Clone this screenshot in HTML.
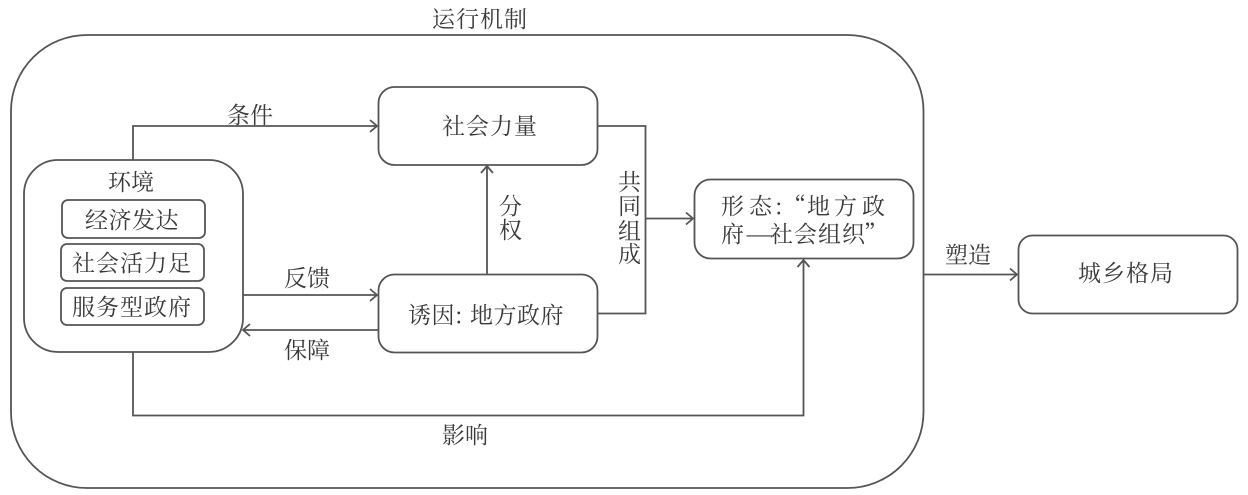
<!DOCTYPE html>
<html><head><meta charset="utf-8"><style>
html,body{margin:0;padding:0;background:#fff;width:1248px;height:495px;overflow:hidden}
svg{display:block}
text{font-family:"Noto Serif CJK SC","Liberation Serif",serif;fill:#3a3a3a;font-size:23px;font-weight:400}
.b{fill:#fff;stroke:#555;stroke-width:1.8}
.l{fill:none;stroke:#555;stroke-width:1.8}
</style></head><body>
<svg width="1248" height="495" viewBox="0 0 1248 495">
<rect class="b" x="11" y="35" width="912.5" height="453" rx="76"/>
<rect class="b" x="24" y="160" width="219" height="192" rx="34"/>
<rect class="b" x="62" y="200" width="143" height="38" rx="6"/>
<rect class="b" x="61" y="244" width="143" height="37" rx="6"/>
<rect class="b" x="61" y="288" width="143" height="37" rx="6"/>
<rect class="b" x="378.500" y="87" width="219" height="78" rx="16"/>
<rect class="b" x="378.500" y="274.500" width="219" height="78" rx="16"/>
<rect class="b" x="694.500" y="179.500" width="219" height="79" rx="16"/>
<rect class="b" x="1018.500" y="235.500" width="219" height="78" rx="14"/>
<path class="l" d="M133 160V126H377M370 120l7 6-7 6"/>
<path class="l" d="M487 274V166M481 173l6-7 6 7"/>
<path class="l" d="M243 295H377M370 289l7 6-7 6"/>
<path class="l" d="M378 330H243M250 324l-7 6 7 6"/>
<path class="l" d="M597 126H645.500V313.500H597M645.500 218.500H693M686 212.500l7 6-7 6"/>
<path class="l" d="M133 352V415.500H803.500V260M797.500 267l6-7 6 7"/>
<path class="l" d="M923 274.500H1017M1010 268.500l7 6-7 6"/>
<text x="432 456 480 504" y="27">运行机制</text>
<text x="227 250" y="123">条件</text>
<text x="108 131" y="190">环境</text>
<text x="85 108.500 132 155.500" y="228">经济发达</text>
<text x="72 96 120 144 168" y="271">社会活力足</text>
<text x="72 96 120 144 168" y="315">服务型政府</text>
<text x="442 466 490 514" y="134">社会力量</text>
<text x="408 431.500 455 470 493.500 517 540.500" y="323">诱因:地方政府</text>
<text x="721 749 775 783 807 834 862" y="214">形态:“地方政</text>
<text x="721" y="242">府</text>
<text transform="translate(745 242) scale(1.5 1)">—</text>
<text x="770 794 818 842 864" y="242">社会组织”</text>
<text x="1078 1102 1126 1150" y="281">城乡格局</text>
<text x="499" y="214">分</text>
<text x="499" y="238">权</text>
<text x="618" y="190">共</text>
<text x="618" y="214">同</text>
<text x="618" y="239">组</text>
<text x="618" y="262">成</text>
<text x="284 307" y="286">反馈</text>
<text x="284 307" y="358">保障</text>
<text x="945 968" y="263">塑造</text>
<text x="442 465" y="443">影响</text>
</svg>
</body></html>
